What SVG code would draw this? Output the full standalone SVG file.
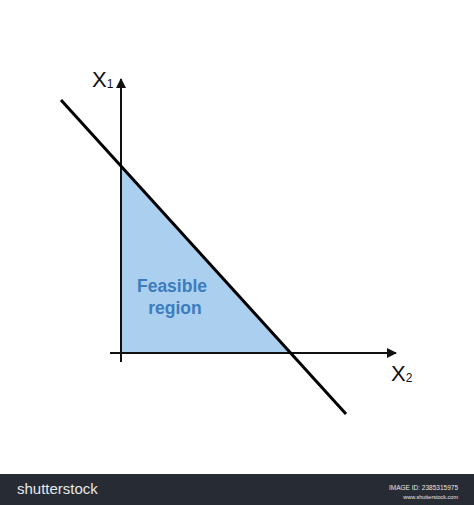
<svg xmlns="http://www.w3.org/2000/svg" width="474" height="505" viewBox="0 0 474 505">
<style>
.axis{stroke:#111;stroke-width:2;fill:none}
.constraint{stroke:#000;stroke-width:3;fill:none}
.region{fill:#abcfef;stroke:none}
.lbl{font-family:"Liberation Sans",Arial,sans-serif;fill:#111}
.rlbl{font-family:"Liberation Sans",Arial,sans-serif;font-weight:bold;font-size:17.5px;fill:#3d7dbd;text-anchor:middle}
.foot{font-family:"Liberation Sans",Arial,sans-serif;fill:#e8e8e8}
</style>
<defs>
<marker id="arr" viewBox="0 0 10 10" refX="9" refY="5" markerWidth="5" markerHeight="5" orient="auto" markerUnits="strokeWidth">
<path d="M0,0 L10,5 L0,10 Z" fill="#111"/>
</marker>
</defs>
<rect width="474" height="505" fill="#fff"/>
<g id="feasible-region">
<polygon class="region" points="121,166 121,353 291,353"/>
<text class="rlbl" x="172" y="292">Feasible</text>
<text class="rlbl" x="175" y="314">region</text>
</g>
<g id="connectors">
<line id="y-axis" class="axis" x1="121" y1="362" x2="121" y2="79" marker-end="url(#arr)"/>
<line id="x-axis" class="axis" x1="110" y1="353" x2="396" y2="353" marker-end="url(#arr)"/>
<line id="constraint" class="constraint" x1="61" y1="100" x2="346" y2="414"/>
</g>
<g id="label-x1">
<text class="lbl" x="92" y="87" font-size="22">X<tspan font-size="12" dy="1">1</tspan></text>
</g>
<g id="label-x2">
<text class="lbl" x="391" y="381" font-size="22">X<tspan font-size="12" dy="1">2</tspan></text>
</g>
<g id="footer">
<rect x="0" y="474" width="474" height="31" fill="#262b34"/>
<text class="foot" x="17" y="494" font-size="15" fill="#fff">shutterstock</text>
<text class="foot" x="458" y="490" font-size="6.5" text-anchor="end">IMAGE ID: 2385315975</text>
<text class="foot" x="458" y="499" font-size="5.5" text-anchor="end">www.shutterstock.com</text>
</g>
</svg>
